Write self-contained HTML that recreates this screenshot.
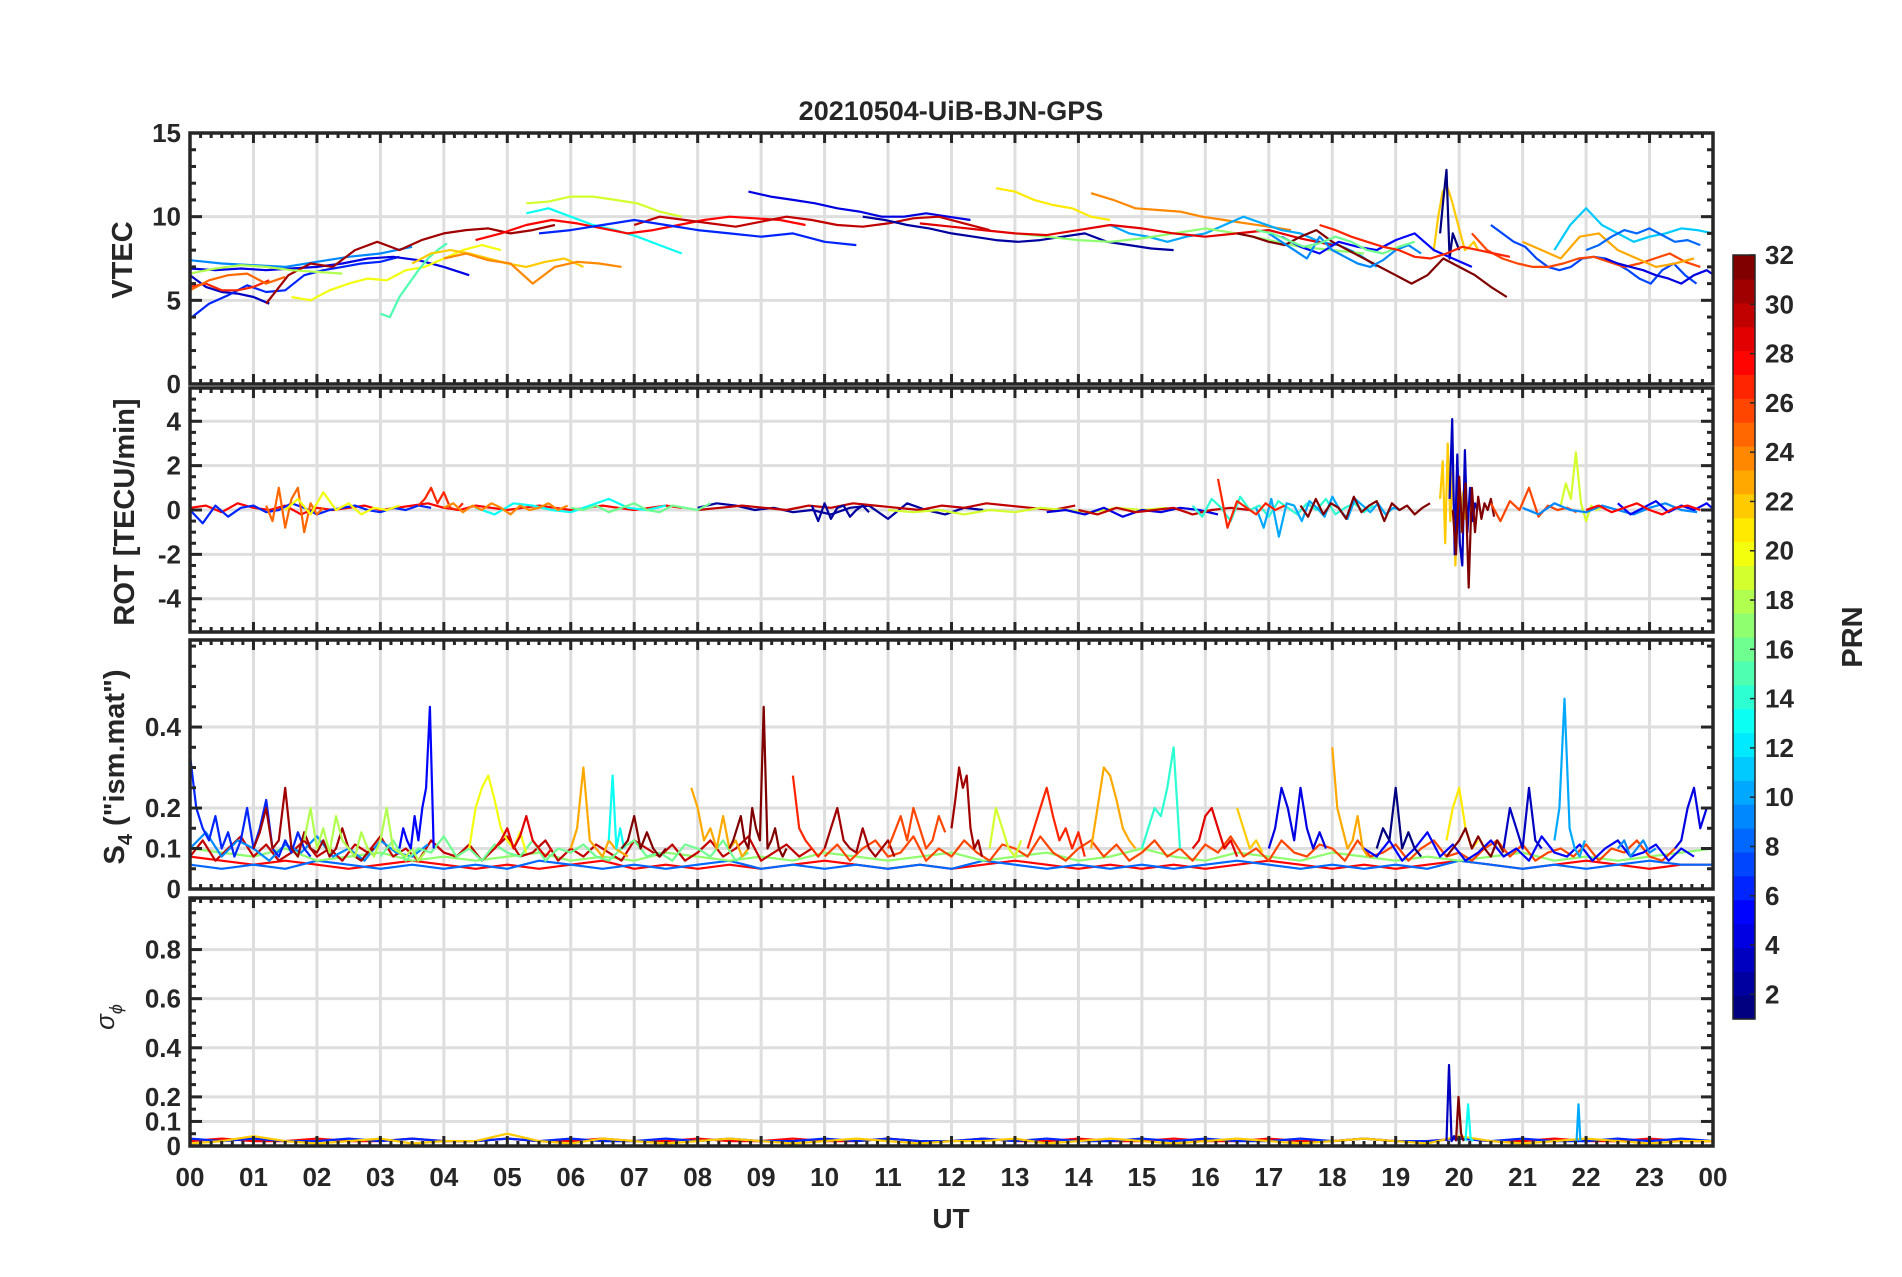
<!DOCTYPE html>
<html><head><meta charset="utf-8"><style>
html,body{margin:0;padding:0;background:#fff;}
svg text{font-family:"Liberation Sans",sans-serif;font-weight:bold;fill:#262626;}
</style></head><body>
<svg id="chart" width="1902" height="1272" viewBox="0 0 1902 1272" xmlns="http://www.w3.org/2000/svg">
<rect width="1902" height="1272" fill="#fff"/>
<text x="951" y="120" font-size="27" text-anchor="middle">20210504-UiB-BJN-GPS</text>
<text x="951" y="1228" font-size="28" text-anchor="middle">UT</text>
<g id="panels"></g>
<g id="cbar"></g>
</svg>
<script>
// ---------- data ----------
const hourLabels = ["00","01","02","03","04","05","06","07","08","09","10","11","12","13","14","15","16","17","18","19","20","21","22","23","00"];
const vtecTicks = [0,5,10,15];
const rotTicks = [-4,-2,0,2,4];
const s4Ticks = [0,0.1,0.2,0.4];
const sigTicks = [0,0.1,0.2,0.4,0.6,0.8];
const cbarTicks = [2,4,6,8,10,12,14,16,18,20,22,24,26,28,30,32];

// each track: [prn, startHour, stepHours, values]
const vtecTracks = [
 [9,0,0.5,[7.4,7.2,7.1,7.0,7.3,7.6,7.8,8.2]],
 [3,0,0.25,[6.5,5.8,5.5,5.4,5.2,4.8]],
 [6,0,0.3,[3.9,4.8,5.3,5.9,5.5,5.6,6.5,6.8,7.0,7.2,7.3,7.6]],
 [27,0,0.25,[5.8,6.0,5.6,5.6,5.8,6.2]],
 [25,0,0.3,[5.6,6.2,6.5,6.6,6.0,6.4]],
 [4,0,0.4,[6.9,6.8,6.9,6.8,6.9,7.0,7.2,7.5,7.6,7.4,7.0,6.5]],
 [31,1.2,0.35,[4.8,6.5,7.2,7.0,8.0,8.5,8.0,8.6,9.0,9.2,9.3,9.0,9.2,9.5]],
 [20,1.6,0.3,[5.2,5.0,5.6,6.0,6.3,6.2,6.8,7.0,7.5,8.0,8.3,8.0]],
 [15,3.0,0.15,[4.2,4.0,5.2,6.0,6.8,7.5,8.0,8.4]],
 [18,0,0.4,[6.6,6.9,7.1,7.0,6.8,6.7,6.6]],
 [22,3.5,0.3,[7.2,7.8,8.0,7.8,7.5,7.2,7.0,7.3,7.5,7.0]],
 [24,4.0,0.35,[7.5,7.8,7.4,7.2,6.0,7.0,7.3,7.2,7.0]],
 [19,5.3,0.35,[10.8,10.9,11.2,11.2,11.0,10.8,10.3,10.0]],
 [13,5.3,0.35,[10.2,10.5,10.0,9.5,9.2,8.8,8.3,7.8]],
 [4,8.8,0.35,[11.5,11.2,11.0,10.8,10.5,10.3,10.0,10.0,10.2,10.0,9.8]],
 [28,4.5,0.4,[8.6,9.0,9.5,9.8,9.6,9.3,9.0,9.2,9.5,9.8,10.0,9.9,9.8,9.5]],
 [30,7.0,0.4,[9.5,10.0,9.8,9.6,9.4,9.7,10.0,9.8,9.5,9.4,9.6,9.9,10.0,9.6,9.2]],
 [6,5.5,0.5,[9.0,9.2,9.5,9.8,9.5,9.2,9.0,8.8,9.0,8.5,8.3]],
 [2,10.6,0.35,[10.0,9.8,9.5,9.3,9.0,8.8,8.6,8.5,8.6,8.8,9.0,8.5,8.3,8.1,8.0]],
 [21,12.7,0.3,[11.7,11.5,11.0,10.7,10.5,10.0,9.8]],
 [24,14.2,0.35,[11.4,11.0,10.5,10.4,10.3,10.0,9.8,9.6,9.4,9.2]],
 [10,14.5,0.3,[9.5,9.0,8.8,8.5,8.8,9.0,9.5,10.0,9.6,9.2,9.0,8.5,8.3,7.8,7.0]],
 [17,13.0,0.5,[9.0,8.8,8.6,8.5,8.7,9.0,9.3,9.0,8.6,8.2,8.0,7.8]],
 [29,11.5,0.5,[9.6,9.4,9.2,9.0,8.9,9.2,9.5,9.3,9.0,8.8,9.0,9.2,8.7,8.3]],
 [32,16.5,0.25,[9.0,8.8,8.5,8.3,8.8,9.2,8.5,8.0,7.5,7.0,6.5,6.0,6.5,7.5,7.0,6.5,5.8,5.2]],
 [22,19.6,0.07,[8.0,10.0,11.5,11.8,11.0,10.0,9.0,8.0,8.2,8.5,8.0]],
 [1,19.7,0.05,[9.0,11.0,12.8,7.5,9.0,8.5,8.0]],
 [7,20.5,0.18,[9.5,9.0,8.5,8.2,7.5,7.0,6.8,7.0,7.5,7.6,7.5,7.2,6.8,6.3,6.0,6.8,7.2,6.5,6.0]],
 [11,21.5,0.25,[8.0,9.5,10.5,9.5,9.0,8.5,8.8,9.0,9.3,9.2,9.0,8.5]],
 [26,20.2,0.24,[9.0,8.0,7.5,7.2,7.0,7.0,7.2,7.5,7.6,7.3,7.0,7.2,7.5,7.8,7.3,7.0]],
 [23,21.0,0.3,[8.5,8.0,7.5,8.8,9.0,8.0,7.5,7.0,7.2,7.5]],
 [5,17.2,0.3,[8.8,8.2,7.8,8.5,8.2,8.0,8.6,9.0,8.0,7.5,7.0]],
 [9,17.0,0.2,[9.0,8.5,8.0,7.5,8.8,8.0,7.6,7.2,7.0,7.4,8.0,8.3,7.8]],
 [16,16.8,0.25,[9.2,9.0,8.6,8.2,8.4,8.8,8.5,8.0,7.8,8.2,8.5]],
 [27,17.8,0.25,[9.5,9.2,8.8,8.5,8.2,8.0,7.6,7.5,7.8,8.2,8.0,7.8,7.6]],
 [8,22.0,0.2,[8.0,8.3,8.8,9.2,9.0,9.3,8.9,8.5,8.6,8.3]],
 [4,22.3,0.2,[7.5,7.2,7.0,6.8,6.5,6.3,6.0,6.5,6.8,6.3,6.0]]
];

const rotTracks = [
 [28,0,0.25,[0.1,0.2,-0.1,0.3,0.1,0.0,0.2,-0.2,0.1,0.0,0.1,0.2,0.0,0.1,0.2,0.3,0.1,0.0,0.2,0.1,0.0,0.1,0.2,0.1,0.0,0.1,0.2,0.1,0.0,0.1,0.2,0.1]],
 [6,0,0.2,[0.0,-0.6,0.2,-0.3,0.1,0.2,-0.1,0.0,0.3,0.1,-0.2,0.0,0.1,0.2,0.0,-0.1,0.1,0.0,0.2,0.1]],
 [25,1.2,0.1,[0.2,-0.5,1.0,-0.8,0.5,1.0,-1.0,0.3,-0.2,0.1]],
 [20,1.5,0.2,[0.0,0.5,-0.2,0.8,0.0,0.3,-0.2,0.1,0.0,0.2]],
 [27,3.6,0.1,[0.2,0.5,1.0,0.3,0.8,0.1,0.0,0.3]],
 [13,4.5,0.3,[0.1,-0.2,0.3,0.2,0.0,-0.1,0.2,0.5,0.1,0.0,0.2]],
 [2,8.0,0.3,[0.1,0.3,0.2,0.0,0.1,-0.1,0.0,-0.2,0.1,0.2,-0.4,0.3,0.0,-0.2,0.1,0.0]],
 [30,8.0,0.35,[0.0,0.1,0.2,0.1,0.0,0.2,0.1,0.3,0.2,0.1,0.0,0.2,0.1,0.3,0.2,0.1,0.0,0.2]],
 [19,11.0,0.4,[0.0,-0.1,0.0,-0.2,0.0,-0.1,0.1,0.0,-0.1,0.1,0.0,0.1]],
 [4,13.5,0.3,[-0.1,0.0,-0.2,0.1,-0.3,0.0,-0.1,0.1,0.0,-0.2]],
 [30,14.0,0.3,[0.0,-0.2,0.1,-0.1,0.0,0.1,-0.2,0.0,0.1,0.0]],
 [14,15.8,0.15,[0.2,-0.3,0.5,0.1,-0.5,0.6,0.0,0.2,-0.3,0.4,0.1,-0.2,0.3,0.0,0.5,-0.2,0.1,0.3,-0.1,0.2]],
 [10,16.8,0.12,[0.1,-0.8,0.5,-1.2,0.3,0.2,-0.5,0.4,0.1,-0.3,0.6,0.0,-0.4,0.5,0.2,-0.1,0.3,-0.2,0.1,0.0]],
 [32,17.5,0.12,[0.2,-0.3,0.5,-0.2,0.3,0.1,-0.4,0.6,-0.1,0.2,0.4,-0.5,0.3,0.0,0.2,-0.2,0.1,0.3]],
 [27,16.2,0.15,[1.4,-0.8,0.4,0.1,-0.2,0.3,0.0,0.2]],
 [22,19.7,0.04,[0.5,2.2,-1.5,3.0,-0.5,1.8,-2.5,1.0,-1.0,0.8,-0.4,0.3,0.0]],
 [3,19.85,0.04,[0.5,4.1,-2.0,2.5,-1.5,-2.5,2.7,-1.0,1.0,-0.5,0.3,0.0]],
 [32,19.9,0.05,[0.0,-2.0,1.5,-1.0,1.2,-3.5,1.0,-1.0,0.6,-0.4,0.3,0.0,0.5,-0.3]],
 [26,20.5,0.15,[0.3,-0.5,0.4,0.0,1.0,-0.3,0.2,0.0,0.1,-0.1]],
 [19,21.6,0.08,[0.2,1.2,0.5,2.6,0.3,-0.5,0.2,0.0,0.1]],
 [9,21.0,0.25,[0.1,-0.2,0.3,0.0,-0.1,0.2,0.0,-0.2,0.1,0.3,0.0,-0.1]],
 [5,22.5,0.2,[0.3,-0.2,0.1,0.4,-0.1,0.2,0.0,0.3,-0.2,0.1]],
 [28,22.0,0.2,[0.0,0.2,-0.1,0.1,0.3,0.0,-0.2,0.1,0.2,0.0]],
 [24,4.0,0.15,[0.1,0.3,-0.1,0.2,0.0,0.3,0.1,-0.2,0.2,0.0,0.1,0.3,0.0,0.2]],
 [16,6.0,0.2,[0.1,0.0,0.2,-0.1,0.1,0.3,0.0,-0.1,0.2,0.1,0.0,0.3]],
 [2,9.8,0.1,[0.2,-0.5,0.3,-0.4,0.1,0.2,-0.3,0.0,0.2,-0.1]]
];

const s4Tracks = [
 [28,0,0.5,[0.08,0.07,0.06,0.07,0.06,0.05,0.06,0.07,0.06,0.05,0.06,0.05,0.06,0.07,0.05,0.06,0.05,0.06,0.05,0.06,0.07,0.06,0.05,0.06,0.05,0.06,0.07,0.06,0.05,0.06,0.05,0.06,0.05,0.06,0.07,0.06,0.05,0.06,0.05,0.06,0.07,0.06,0.05,0.06,0.07,0.06,0.05,0.06,0.06]],
 [8,0,0.5,[0.06,0.05,0.06,0.05,0.07,0.06,0.05,0.06,0.05,0.06,0.05,0.07,0.06,0.05,0.06,0.05,0.06,0.07,0.05,0.06,0.05,0.06,0.05,0.06,0.05,0.07,0.06,0.05,0.06,0.05,0.06,0.05,0.06,0.07,0.06,0.05,0.06,0.05,0.06,0.05,0.07,0.06,0.05,0.06,0.05,0.06,0.07,0.06,0.06]],
 [17,0,0.5,[0.1,0.09,0.08,0.1,0.07,0.08,0.09,0.07,0.08,0.07,0.08,0.09,0.07,0.08,0.07,0.09,0.08,0.07,0.08,0.07,0.09,0.08,0.07,0.08,0.09,0.07,0.08,0.09,0.07,0.08,0.1,0.08,0.07,0.09,0.08,0.07,0.09,0.08,0.07,0.08,0.07,0.08,0.09,0.07,0.08,0.07,0.08,0.09,0.1]],
 [30,0,0.2,[0.08,0.12,0.07,0.1,0.13,0.08,0.11,0.07,0.09,0.12,0.08,0.1,0.07,0.11,0.09,0.13,0.08,0.1,0.07,0.12,0.09,0.08,0.11,0.07,0.1,0.13,0.08,0.09,0.12,0.07,0.1,0.08,0.11,0.09,0.07,0.12,0.1,0.08,0.11,0.07,0.09,0.12,0.08,0.1,0.13,0.07,0.09,0.11,0.08,0.1]],
 [26,10,0.2,[0.08,0.11,0.07,0.1,0.12,0.08,0.09,0.13,0.07,0.1,0.08,0.12,0.09,0.07,0.11,0.1,0.08,0.13,0.09,0.07,0.1,0.12,0.08,0.11,0.07,0.09,0.12,0.08,0.1,0.07,0.11,0.09,0.13,0.08,0.1,0.07,0.12,0.09,0.08,0.11,0.1,0.07,0.12,0.08,0.09,0.11,0.07,0.1,0.12,0.08,0.09,0.07,0.1,0.12,0.08,0.11,0.07,0.09,0.1,0.08,0.11,0.07,0.1,0.09,0.12,0.08,0.07,0.1]],
 [9,0,0.25,[0.1,0.14,0.08,0.12,0.1,0.07,0.11,0.09,0.13,0.08,0.1,0.07,0.12,0.09,0.08,0.11]],
 [5,18.5,0.2,[0.1,0.08,0.12,0.07,0.1,0.14,0.08,0.11,0.07,0.09,0.12,0.08,0.1,0.07,0.13,0.09,0.08,0.11,0.07,0.1,0.12,0.08,0.09,0.11,0.07,0.1,0.08]],
 [16,3.0,0.2,[0.08,0.12,0.07,0.1,0.09,0.13,0.08,0.1,0.07,0.11,0.09,0.08,0.12,0.07,0.1,0.09,0.11,0.08,0.07,0.1,0.12,0.08,0.09,0.07,0.11,0.1,0.08,0.12,0.07,0.09]],
 [6,0,0.1,[0.33,0.2,0.15,0.12,0.18,0.1,0.14,0.08,0.12,0.2,0.1,0.15,0.22,0.1,0.08,0.12,0.09,0.14,0.1,0.08]],
 [31,1.0,0.1,[0.1,0.14,0.2,0.1,0.12,0.25,0.1,0.08,0.14,0.1,0.09,0.12,0.08,0.1,0.15,0.1,0.08,0.07,0.09,0.1]],
 [18,1.8,0.1,[0.12,0.2,0.1,0.15,0.09,0.18,0.12,0.1,0.08,0.14,0.1,0.08,0.12,0.2,0.1,0.09,0.08,0.1,0.07,0.09]],
 [5,3.3,0.06,[0.1,0.15,0.12,0.1,0.18,0.12,0.2,0.25,0.45,0.1]],
 [20,4.4,0.1,[0.1,0.2,0.25,0.28,0.22,0.15,0.12,0.1,0.14,0.09]],
 [29,4.8,0.1,[0.1,0.12,0.15,0.1,0.13,0.18,0.12,0.1,0.08,0.1]],
 [23,6.0,0.1,[0.1,0.15,0.3,0.12,0.1,0.08,0.12,0.1,0.09,0.08]],
 [13,6.6,0.06,[0.12,0.28,0.1,0.15,0.1]],
 [32,6.8,0.1,[0.1,0.12,0.18,0.1,0.14,0.1,0.08,0.1]],
 [23,7.9,0.1,[0.25,0.2,0.12,0.15,0.1,0.18,0.1,0.12,0.08,0.1]],
 [32,8.5,0.06,[0.1,0.12,0.15,0.18,0.12,0.1,0.2,0.15,0.12,0.45,0.1,0.12,0.15,0.1,0.08,0.1]],
 [27,9.5,0.1,[0.28,0.15,0.12,0.1,0.08,0.1]],
 [31,10.0,0.1,[0.1,0.15,0.2,0.12,0.1,0.09,0.15,0.1,0.08,0.1,0.12,0.08]],
 [26,11.0,0.1,[0.1,0.14,0.18,0.12,0.2,0.15,0.1,0.12,0.18,0.14]],
 [31,12.0,0.06,[0.15,0.22,0.3,0.25,0.28,0.15,0.1,0.12,0.08]],
 [19,12.6,0.1,[0.1,0.2,0.15,0.1,0.08,0.12]],
 [27,13.2,0.1,[0.1,0.15,0.2,0.25,0.18,0.12,0.15,0.1,0.14,0.08]],
 [23,14.2,0.1,[0.1,0.2,0.3,0.28,0.22,0.15,0.12,0.1]],
 [14,15.0,0.1,[0.1,0.15,0.2,0.18,0.25,0.35,0.1]],
 [29,15.8,0.1,[0.1,0.12,0.18,0.2,0.15,0.1,0.12,0.08]],
 [22,16.5,0.1,[0.2,0.15,0.1,0.12,0.09]],
 [4,17.0,0.1,[0.1,0.15,0.25,0.2,0.12,0.25,0.15,0.1,0.14,0.1]],
 [23,18.0,0.08,[0.35,0.2,0.15,0.1,0.12,0.18,0.1,0.08]],
 [1,18.7,0.1,[0.1,0.15,0.12,0.25,0.1,0.14,0.1,0.08]],
 [21,19.8,0.1,[0.12,0.2,0.25,0.15,0.1,0.12]],
 [32,19.8,0.1,[0.08,0.1,0.12,0.15,0.1,0.13,0.1,0.08,0.12,0.09]],
 [3,20.7,0.1,[0.1,0.2,0.15,0.1,0.25,0.12,0.1]],
 [10,21.5,0.08,[0.12,0.2,0.47,0.15,0.1,0.08,0.12]],
 [9,22.5,0.1,[0.1,0.12,0.08,0.1,0.12,0.09,0.1]],
 [4,23.4,0.1,[0.1,0.12,0.2,0.25,0.15,0.2]]
];

const sigTracks = [
 [28,0,0.5,[0.02,0.03,0.02,0.02,0.03,0.02,0.02,0.03,0.02,0.02,0.03,0.02,0.02,0.03,0.02,0.02,0.03,0.02,0.02,0.03,0.02,0.02,0.03,0.02,0.02,0.03,0.02,0.02,0.03,0.02,0.02,0.03,0.02,0.02,0.03,0.02,0.02,0.03,0.02,0.02,0.03,0.02,0.02,0.03,0.02,0.02,0.03,0.02,0.02]],
 [6,0,0.5,[0.03,0.02,0.03,0.02,0.02,0.03,0.02,0.03,0.02,0.02,0.03,0.02,0.03,0.02,0.02,0.03,0.02,0.03,0.02,0.02,0.03,0.02,0.03,0.02,0.02,0.03,0.02,0.03,0.02,0.02,0.03,0.02,0.03,0.02,0.02,0.03,0.02,0.03,0.02,0.02,0.03,0.02,0.03,0.02,0.02,0.03,0.02,0.03,0.02]],
 [22,0,0.5,[0.01,0.02,0.04,0.02,0.01,0.02,0.03,0.01,0.02,0.02,0.05,0.02,0.01,0.03,0.02,0.01,0.02,0.03,0.02,0.01,0.02,0.03,0.02,0.01,0.02,0.02,0.03,0.01,0.02,0.03,0.02,0.01,0.02,0.03,0.02,0.01,0.02,0.03,0.02,0.01,0.04,0.02,0.01,0.02,0.03,0.02,0.01,0.02,0.02]],
 [3,19.8,0.04,[0.02,0.33,0.02,0.04,0.02]],
 [32,19.95,0.04,[0.02,0.2,0.05,0.02]],
 [13,20.1,0.04,[0.02,0.17,0.03,0.02]],
 [10,21.85,0.03,[0.02,0.17,0.02]]
];

// ---------- layout ----------
const X0=190, X1=1713;
const panels = [
 {name:"vtec-panel", top:133, bot:384, min:0, max:15, ticks:vtecTicks, minor:1, tracks:vtecTracks, label:"VTEC", lx:132, ly:260},
 {name:"rot-panel", top:388, bot:632, min:-5.5, max:5.5, ticks:rotTicks, minor:0.5, tracks:rotTracks, label:"ROT [TECU/min]", lx:134, ly:512},
 {name:"s4-panel", top:640, bot:889, min:0, max:0.615, ticks:s4Ticks, minor:0.05, tracks:s4Tracks, label:"s4", lx:124, ly:767},
 {name:"sigma-panel", top:898, bot:1146, min:0, max:1.01, ticks:sigTicks, minor:0.05, tracks:sigTracks, label:"sig", lx:114, ly:1017}
];
const xs = h => X0 + h/24*(X1-X0);
function jet(prn){
 const t=(prn-1)/31;
 const c=v=>Math.round(255*Math.max(0,Math.min(1,v)));
 return `rgb(${c(1.5-Math.abs(4*t-3))},${c(1.5-Math.abs(4*t-2))},${c(1.5-Math.abs(4*t-1))})`;
}
const NS="http://www.w3.org/2000/svg";
function mk(tag,attrs,parent){const e=document.createElementNS(NS,tag);for(const k in attrs)e.setAttribute(k,attrs[k]);parent.appendChild(e);return e;}
const root=document.getElementById("panels");
const defs=mk("defs",{},root);
panels.forEach((p,pi)=>{
 const ys = v => p.bot - (v-p.min)/(p.max-p.min)*(p.bot-p.top);
 const g=mk("g",{},root);
 
 
 const cp=mk("clipPath",{id:"cp"+pi},defs);
 mk("rect",{x:X0,y:p.top,width:X1-X0,height:p.bot-p.top},cp);
 for(let h=1;h<24;h++){const l=mk("line",{x1:xs(h),x2:xs(h),y1:p.top,y2:p.bot,stroke:"#dedede","stroke-width":3},g);
  
  }
 p.ticks.forEach(v=>{ if(v===p.min) return; const l=mk("line",{x1:X0,x2:X1,y1:ys(v),y2:ys(v),stroke:"#dedede","stroke-width":3},g);
  
  });
 const sg=mk("g",{"clip-path":`url(#cp${pi})`},g);
 p.tracks.forEach(tr=>{
  const [prn,t0,st,vals]=tr;
  const pts=vals.map((v,i)=>xs(t0+i*st).toFixed(1)+","+ys(v).toFixed(1)).join(" ");
  const pl=mk("polyline",{points:pts,fill:"none",stroke:jet(prn),"stroke-width":2.2,"stroke-linejoin":"round"},sg);
  
  
 });
 const tk=mk("g",{stroke:"#262626","stroke-width":3},g);
 for(let m=0;m<=144;m++){const h=m/6,x=xs(h),L=(m%6===0)?10:5;
  mk("line",{x1:x,x2:x,y1:p.top,y2:p.top+L},tk);mk("line",{x1:x,x2:x,y1:p.bot,y2:p.bot-L},tk);}
 for(let v=Math.ceil(p.min/p.minor)*p.minor; v<=p.max+1e-9; v+=p.minor){
  const major=p.ticks.some(t=>Math.abs(t-v)<1e-6),L=major?12:6,y=ys(v);
  mk("line",{x1:X0,x2:X0+L,y1:y,y2:y},tk);mk("line",{x1:X1,x2:X1-L,y1:y,y2:y},tk);}
 mk("rect",{x:X0,y:p.top,width:X1-X0,height:p.bot-p.top,fill:"none",stroke:"#262626","stroke-width":3.5},g);
 p.ticks.forEach(v=>{const t=mk("text",{x:X0-9,y:ys(v)+9,"font-size":26,"text-anchor":"end"},g);t.textContent=String(v);
  
  });
 const lab=mk("text",{transform:`translate(${p.lx},${p.ly}) rotate(-90)`,"font-size":29,"text-anchor":"middle"},g);
 
 
 if(p.label==="s4"){lab.innerHTML='S<tspan font-size="20" dy="8">4</tspan><tspan dy="-8"> ("ism.mat")</tspan>';}
 else if(p.label==="sig"){lab.setAttribute("font-style","italic");lab.setAttribute("font-size","26");lab.innerHTML='σ<tspan font-size="18" dy="8">ϕ</tspan>';lab.style.fontWeight="normal";}
 else lab.textContent=p.label;
});
hourLabels.forEach((s,i)=>{const t=mk("text",{x:xs(i),y:1186,"font-size":26,"text-anchor":"middle"},root);t.textContent=s;
 
 });
const cb=document.getElementById("cbar");
const CT=255,CB=1019,CX=1733,CW=22;
const cy=v=>CB-(v-1)/31*(CB-CT);
for(let i=0;i<32;i++){const r=mk("rect",{x:CX,y:CB-(i+1)*(CB-CT)/32,width:CW,height:(CB-CT)/32+0.6,fill:jet(i+1)},cb);
 
 }
mk("rect",{x:CX,y:CT,width:CW,height:CB-CT,fill:"none",stroke:"#262626","stroke-width":1.5},cb);
cbarTicks.forEach(v=>{const y=cy(v);mk("line",{x1:CX+CW-5,x2:CX+CW,y1:y,y2:y,stroke:"#262626","stroke-width":1.5},cb);
 const t=mk("text",{x:CX+CW+10,y:y+9,"font-size":26},cb);t.textContent=String(v);
 
 });
const pl=mk("text",{transform:"translate(1862,637) rotate(-90)","font-size":29,"text-anchor":"middle"},cb);
pl.textContent="PRN";


</script>
</body></html>
